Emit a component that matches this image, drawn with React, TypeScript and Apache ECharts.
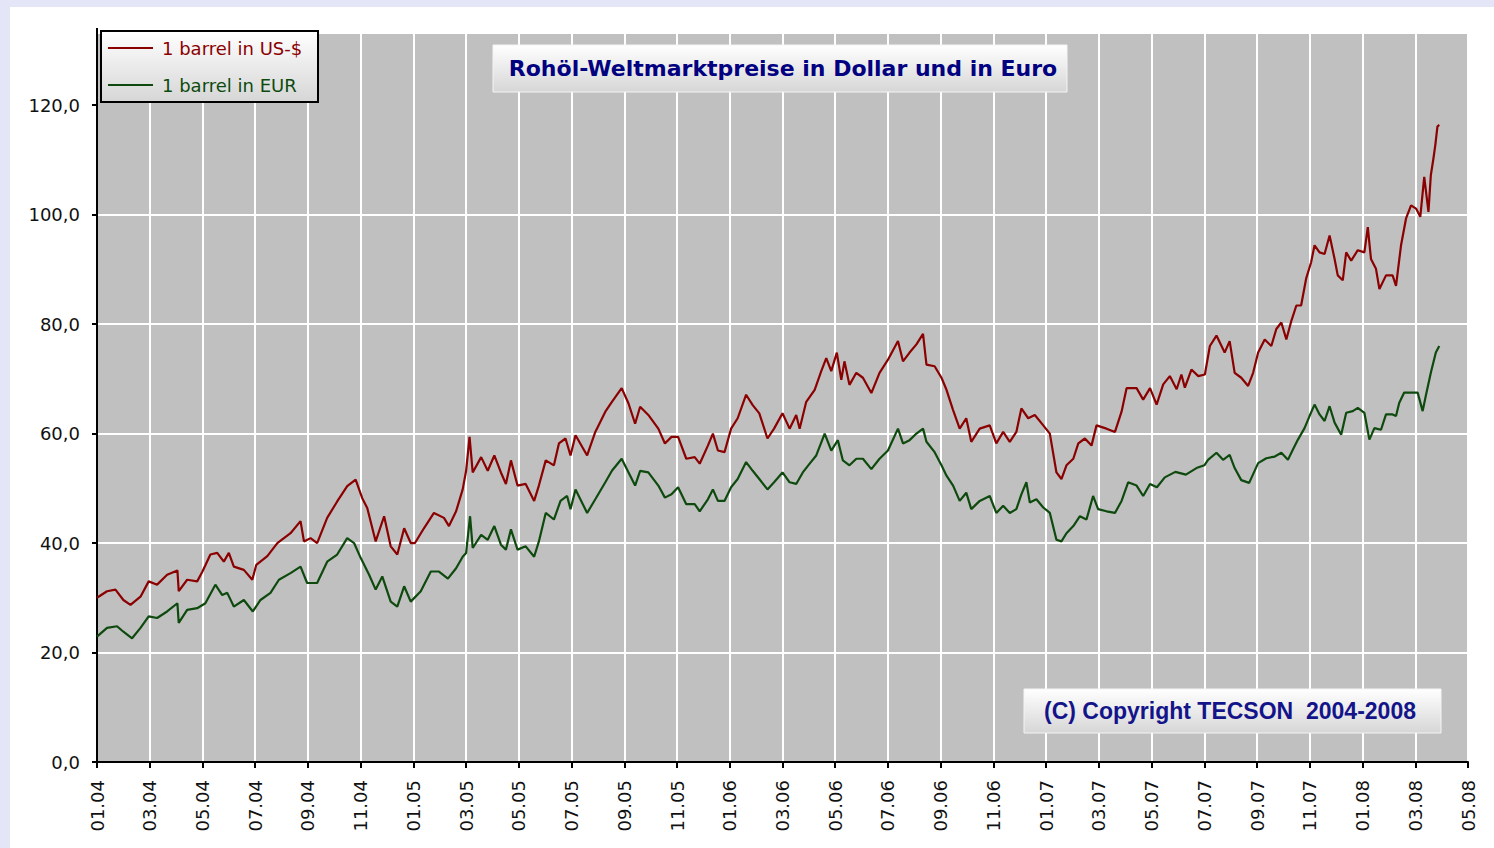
import React, { useEffect, useRef } from "react";
import * as echarts from "echarts";

// month index since 01.2004
const usdMonths = [0,0.38,0.7,1.0,1.27,1.65,1.96,2.28,2.66,3.05,3.1,3.42,3.8,4.0,4.3,4.56,4.81,5.0,5.19,5.57,5.89,6.04,6.46,6.84,7.34,7.72,7.85,8.1,8.35,8.73,9.11,9.49,9.81,10.06,10.25,10.57,10.89,11.14,11.39,11.65,11.9,12.06,12.4,12.78,13.16,13.35,13.62,13.87,14.0,14.13,14.25,14.57,14.82,15.07,15.32,15.51,15.7,15.95,16.26,16.58,16.76,17.02,17.33,17.52,17.77,17.96,18.15,18.59,18.9,19.28,19.53,19.9,20.16,20.41,20.6,20.91,21.29,21.54,21.79,22.04,22.35,22.67,22.86,23.17,23.36,23.55,23.8,24.05,24.3,24.62,24.87,25.12,25.43,25.68,26.0,26.27,26.52,26.65,26.9,27.22,27.47,27.66,27.85,28.06,28.23,28.35,28.54,28.8,29.05,29.37,29.68,30.0,30.38,30.57,30.82,31.08,31.33,31.46,31.77,32.03,32.22,32.47,32.72,32.97,33.16,33.48,33.86,34.11,34.37,34.62,34.87,35.06,35.32,35.57,35.89,36.14,36.39,36.58,36.77,37.03,37.22,37.47,37.72,37.91,38.29,38.61,38.86,39.05,39.43,39.68,39.94,40.19,40.44,40.69,40.95,41.13,41.26,41.51,41.77,42.02,42.21,42.46,42.77,42.96,43.15,43.4,43.66,43.85,44.04,44.29,44.54,44.73,44.92,45.11,45.3,45.49,45.67,45.86,46.05,46.18,46.37,46.56,46.75,46.94,47.06,47.25,47.38,47.57,47.82,48.07,48.2,48.32,48.51,48.64,48.89,49.14,49.27,49.46,49.65,49.84,50.03,50.19,50.34,50.5,50.59,50.69,50.76,50.84,50.91];
const usdValues = [30,31.2,31.5,29.6,28.7,30.2,33,32.4,34.2,35,31.2,33.3,33,34.8,37.9,38.2,36.6,38.2,35.7,35.1,33.3,36,37.6,40,41.8,44,40.3,40.9,40,44.6,47.6,50.4,51.6,48.2,46.4,40.3,44.9,39.4,37.9,42.7,40,40,42.7,45.5,44.6,43.1,45.8,49.8,53.2,59.4,52.9,55.7,53.2,56,52.9,50.8,55.1,50.5,50.8,47.7,50.5,55.1,54.2,58.2,59.1,56,59.7,56,60.3,64,65.8,68.3,65.5,61.8,64.9,63.4,60.9,58.2,59.4,59.4,55.4,55.7,54.5,57.8,60,56.9,56.6,60.9,62.8,67.1,65.2,63.7,59.1,60.9,63.7,60.9,63.4,60.9,65.8,68,71.4,73.8,71.4,74.8,69.8,73.2,68.9,71.1,70.2,67.4,71.1,73.5,76.9,73.2,74.8,76.3,78.2,72.6,72.3,70.2,68,64.3,60.9,62.8,58.5,60.9,61.5,58.2,60.3,58.5,60.3,64.6,62.8,63.4,61.5,60,52.9,51.7,54.2,55.4,58.2,59.1,57.8,61.5,60.9,60.3,64,68.3,68.3,66.2,68.3,65.3,69,70.5,68.1,70.8,68.4,71.7,70.5,70.8,76,77.9,74.8,76.9,71.1,70.2,68.7,71.1,74.8,77.2,76,79.1,80.3,77.2,80.6,83.4,83.4,88.3,91.3,94.4,93.1,92.8,96.2,91.9,88.9,88,93.1,91.6,93.5,93.1,97.7,91.9,90.1,86.4,88.9,88.9,87,94.4,99.3,101.7,101.1,99.6,106.9,100.5,107.2,110.3,112.7,116.1,116.4];

const eurMonths = [0,0.38,0.76,1.0,1.33,1.65,1.96,2.28,2.66,3.05,3.1,3.42,3.8,4.11,4.49,4.75,4.94,5.19,5.57,5.91,6.2,6.58,6.9,7.34,7.72,7.97,8.35,8.73,9.11,9.49,9.75,10.0,10.32,10.57,10.82,11.14,11.39,11.65,11.9,12.28,12.66,12.97,13.31,13.62,13.87,14.0,14.15,14.25,14.57,14.82,15.07,15.32,15.51,15.7,15.95,16.26,16.58,16.76,17.02,17.33,17.58,17.83,17.96,18.15,18.59,18.9,19.28,19.53,19.9,20.16,20.41,20.6,20.91,21.29,21.54,21.79,22.04,22.35,22.67,22.86,23.17,23.36,23.55,23.8,24.05,24.3,24.62,24.87,25.12,25.43,25.68,26.0,26.27,26.52,26.77,27.03,27.28,27.6,27.85,28.1,28.29,28.54,28.8,29.05,29.37,29.68,30.0,30.38,30.57,30.82,31.08,31.33,31.46,31.77,32.03,32.22,32.47,32.72,32.97,33.16,33.48,33.86,34.11,34.37,34.62,34.87,35.06,35.25,35.38,35.63,35.89,36.14,36.39,36.58,36.77,37.03,37.28,37.53,37.78,37.97,38.29,38.61,38.86,39.11,39.43,39.68,39.94,40.2,40.5,40.9,41.3,41.7,42.0,42.14,42.46,42.71,42.96,43.15,43.4,43.7,44.04,44.35,44.67,44.92,45.17,45.36,45.55,45.8,45.99,46.18,46.37,46.56,46.75,46.94,47.19,47.38,47.63,47.82,48.07,48.26,48.45,48.7,48.89,49.14,49.27,49.39,49.58,49.84,50.09,50.28,50.4,50.59,50.78,50.91];
const eurValues = [22.9,24.5,24.8,23.8,22.6,24.5,26.6,26.3,27.5,29,25.4,27.8,28.1,29,32.4,30.5,30.9,28.4,29.6,27.5,29.6,30.9,33.3,34.5,35.7,32.7,32.7,36.6,37.9,40.9,40,37.3,34.2,31.5,33.9,29.3,28.4,32.1,29.3,31.2,34.8,34.8,33.5,35.4,37.5,38.2,44.9,39.1,41.5,40.6,43.1,39.7,38.8,42.5,38.8,39.4,37.5,40.3,45.5,44.3,47.7,48.6,46.2,49.8,45.5,48,51.1,53.2,55.4,52.9,50.5,53.2,52.9,50.5,48.3,48.9,50.2,47.1,47.1,45.8,48,49.8,47.7,47.7,50.2,51.7,54.8,53.2,51.7,49.8,51.1,52.9,51.1,50.8,52.9,54.5,56,60,56.9,58.8,55.1,54.2,55.4,55.4,53.5,55.4,56.9,60.9,58.2,58.8,60,60.9,58.5,56.6,54.2,52.3,50.5,47.7,49.2,46.2,47.7,48.6,45.5,46.8,45.5,46.2,48.9,51.1,47.4,48,46.5,45.5,40.6,40.3,41.8,43.1,44.9,44.3,48.6,46.2,45.8,45.5,47.7,51.1,50.5,48.6,50.8,50.2,52,53,52.5,53.7,54.2,55.2,56.5,55.2,56.1,53.7,51.5,51,54.6,55.5,55.8,56.5,55.2,57.1,58.9,61,63.2,65.3,63.5,62.3,65,62,59.8,63.8,64.1,64.7,63.8,58.9,61,60.7,63.5,63.5,63.2,65.6,67.5,67.5,67.5,64.1,66.9,71.1,74.8,76];

const xTickLabels = ["01.04","03.04","05.04","07.04","09.04","11.04","01.05","03.05","05.05","07.05","09.05","11.05","01.06","03.06","05.06","07.06","09.06","11.06","01.07","03.07","05.07","07.07","09.07","11.07","01.08","03.08","05.08"];
const yTickValues = [0, 20, 40, 60, 80, 100, 120];

const seriesNames = ["1 barrel in US-$", "1 barrel in EUR"];
const chartTitle = "Rohöl-Weltmarktpreise in Dollar und in Euro";
const copyrightText = "(C) Copyright TECSON  2004-2008";

const RED = "#8b0000";
const GREEN = "#0e4a0e";
const AXIS_FONT = "DejaVu Sans";

const boxFill = () =>
  new echarts.graphic.LinearGradient(0, 0, 0, 1, [
    { offset: 0, color: "#ffffff" },
    { offset: 1, color: "#d6d6d6" },
  ]);

export default function App() {
  const ref = useRef<HTMLDivElement>(null);
  useEffect(() => {
    if (!ref.current) return;
    const chart = echarts.init(ref.current, undefined, { renderer: "svg" });
    const usdData = usdMonths.map((m, i) => [m, usdValues[i]]);
    const eurData = eurMonths.map((m, i) => [m, eurValues[i]]);
    chart.setOption({
      animation: false,
      backgroundColor: "#ffffff",
      grid: {
        left: 97,
        right: 26,
        top: 34,
        bottom: 86,
        show: true,
        backgroundColor: "#c0c0c0",
        borderWidth: 0,
      },
      xAxis: {
        type: "value",
        min: 0,
        max: 52,
        interval: 2,
        axisLine: { show: true, onZero: false, lineStyle: { color: "#000", width: 2 } },
        axisTick: { show: true, length: 6, lineStyle: { color: "#000", width: 2 } },
        axisLabel: {
          rotate: 90,
          margin: 18,
          color: "#111",
          fontFamily: AXIS_FONT,
          fontSize: 18,
          formatter: (v: number) => xTickLabels[Math.round(v / 2)] ?? "",
        },
        splitLine: { show: true, showMinLine: false, lineStyle: { color: "#ffffff", width: 2 } },
      },
      yAxis: {
        type: "value",
        min: 0,
        max: 133,
        interval: 20,
        axisLine: { show: true, lineStyle: { color: "#000", width: 2 } },
        axisTick: {
          show: true,
          length: 5,
          customValues: yTickValues,
          lineStyle: { color: "#000", width: 2 },
        },
        axisLabel: {
          margin: 17,
          color: "#111",
          fontFamily: AXIS_FONT,
          fontSize: 18,
          customValues: yTickValues,
          formatter: (v: number) => v.toFixed(1).replace(".", ","),
        },
        splitLine: {
          show: true,
          showMinLine: false,
          showMaxLine: false,
          lineStyle: { color: "#ffffff", width: 2 },
        },
      },
      series: [
        {
          name: seriesNames[1],
          type: "line",
          data: eurData,
          showSymbol: false,
          lineStyle: { color: GREEN, width: 2.2 },
          itemStyle: { color: GREEN },
        },
        {
          name: seriesNames[0],
          type: "line",
          data: usdData,
          showSymbol: false,
          lineStyle: { color: RED, width: 2.2 },
          itemStyle: { color: RED },
        },
      ],
      graphic: [
        { type: "rect", left: 0, top: 0, shape: { width: 1494, height: 7 }, style: { fill: "#e4e6f8" }, z: 100 },
        { type: "rect", left: 0, top: 0, shape: { width: 10, height: 848 }, style: { fill: "#e4e6f8" }, z: 100 },
        { type: "line", shape: { x1: 97, y1: 28, x2: 97, y2: 36 }, style: { stroke: "#000", lineWidth: 2 }, z: 99 },
        // legend
        {
          type: "group",
          z: 100,
          children: [
            { type: "rect", x: 101, y: 31, shape: { width: 217, height: 71 }, style: { fill: boxFill(), stroke: "#000", lineWidth: 2 }, z: 100 },
            { type: "line", shape: { x1: 108, y1: 48, x2: 153, y2: 48 }, style: { stroke: RED, lineWidth: 2 }, z: 101 },
            { type: "text", x: 162, y: 48, style: { text: seriesNames[0], fill: RED, font: `18px "DejaVu Sans"`, verticalAlign: "middle" }, z: 101 },
            { type: "line", shape: { x1: 108, y1: 85, x2: 153, y2: 85 }, style: { stroke: GREEN, lineWidth: 2 }, z: 101 },
            { type: "text", x: 162, y: 85, style: { text: seriesNames[1], fill: GREEN, font: `18px "DejaVu Sans"`, verticalAlign: "middle" }, z: 101 },
          ],
        },
        // title box
        {
          type: "group",
          z: 100,
          children: [
            { type: "rect", x: 493, y: 45, shape: { width: 574, height: 47 }, style: { fill: boxFill(), stroke: "#f4f4f4", lineWidth: 1 }, z: 100 },
            { type: "text", x: 783, y: 68, style: { text: chartTitle, fill: "#000080", font: `bold 22px "DejaVu Sans"`, align: "center", verticalAlign: "middle" }, z: 101 },
          ],
        },
        // copyright box
        {
          type: "group",
          z: 100,
          children: [
            { type: "rect", x: 1024, y: 689, shape: { width: 417, height: 44 }, style: { fill: boxFill(), stroke: "#f4f4f4", lineWidth: 1 }, z: 100 },
            { type: "text", x: 1230, y: 711, style: { text: copyrightText, fill: "#14148a", font: `bold 23px "Liberation Sans"`, align: "center", verticalAlign: "middle" }, z: 101 },
          ],
        },
      ],
    });
    return () => chart.dispose();
  }, []);
  return <div ref={ref} style={{ position: "absolute", left: 0, top: 0, width: 1494, height: 848 }} />;
}
